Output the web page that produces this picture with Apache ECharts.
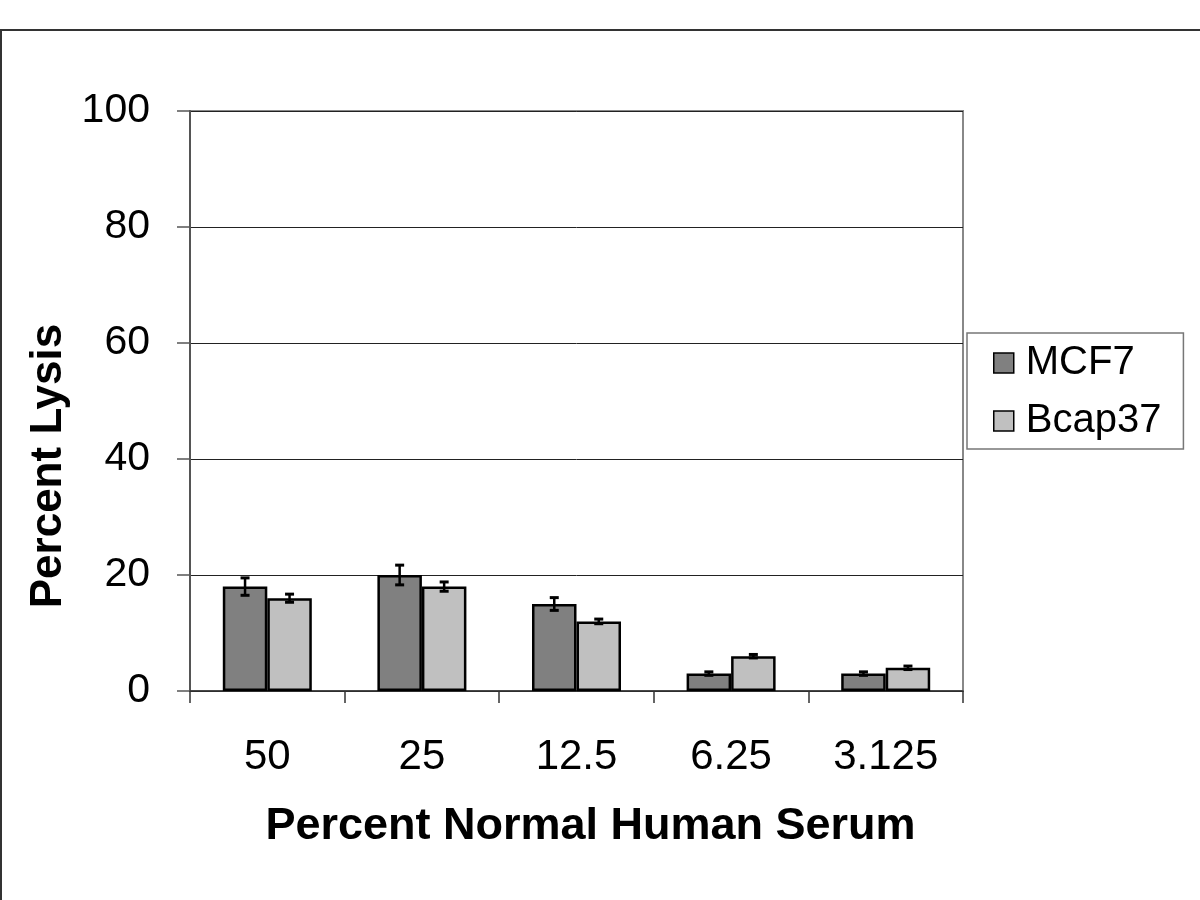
<!DOCTYPE html>
<html><head><meta charset="utf-8">
<script src="https://cdn.jsdelivr.net/npm/echarts@6/dist/echarts.min.js"></script>
<style>html,body{margin:0;padding:0;background:#fff}#c{width:1200px;height:900px}</style>
</head><body><div id="c"></div>
<script>
const categories = ['50', '25', '12.5', '6.25', '3.125'];
const mcf7 = [18, 20, 15, 3, 3];
const mcf7Err = [1.5, 1.7, 1.1, 0.3, 0.3];
const bcap37 = [16, 18, 12, 6, 4];
const bcap37Err = [0.7, 0.8, 0.4, 0.3, 0.3];
const yTicks = [0, 20, 40, 60, 80, 100];

const FONT = 'Liberation Sans, Arial, sans-serif';
const chart = echarts.init(document.getElementById('c'), null, {renderer: 'canvas'});
const BW = 44.5;
function errSeries(name, vals, errs, offset) {
  return {
    type: 'custom', name: name + ' err', silent: true, z: 10,
    data: vals.map((v, i) => [i, v, errs[i]]),
    renderItem: function (params, api) {
      const i = api.value(0), v = api.value(1), e = api.value(2);
      const hi = api.coord([i, v + e]);
      const lo = api.coord([i, v - e]);
      const x = hi[0] + offset;
      const cap = 4.5;
      const st = {stroke: '#000', lineWidth: 2.5};
      return {type: 'group', children: [
        {type: 'line', shape: {x1: x, y1: hi[1], x2: x, y2: lo[1]}, style: st},
        {type: 'line', shape: {x1: x - cap, y1: hi[1], x2: x + cap, y2: hi[1]}, style: {stroke: '#000', lineWidth: 3}},
        {type: 'line', shape: {x1: x - cap, y1: lo[1], x2: x + cap, y2: lo[1]}, style: {stroke: '#000', lineWidth: 3}}
      ]};
    }
  };
}
chart.setOption({
  backgroundColor: '#fff',
  animation: false,
  textStyle: {fontFamily: FONT},
  graphic: [{type: 'rect', shape: {x: 1, y: 30, width: 1300, height: 1000},
    style: {fill: 'none', stroke: '#333', lineWidth: 2}, z: -10}],
  grid: {left: 190, right: 237, top: 111, bottom: 209, show: true,
    borderColor: '#888', borderWidth: 2, backgroundColor: 'transparent'},
  legend: {
    left: 967, top: 333, orient: 'vertical',
    data: ['MCF7', 'Bcap37'], icon: 'rect',
    borderColor: '#777', borderWidth: 1.5, padding: [10, 22, 8, 26],
    itemWidth: 20, itemHeight: 20, itemGap: 18,
    itemStyle: {borderColor: '#000', borderWidth: 1.5},
    textStyle: {fontSize: 40, lineHeight: 40, color: '#000', fontFamily: FONT, padding: [0, 0, 0, 7]}
  },
  xAxis: {
    type: 'category', data: categories,
    name: 'Percent Normal Human Serum', nameLocation: 'middle', nameGap: 113,
    nameTextStyle: {fontSize: 45, fontWeight: 'bold', color: '#000', fontFamily: FONT, padding: [0, 0, 0, 28]},
    axisLine: {lineStyle: {color: '#333', width: 1.5}},
    axisTick: {show: true, length: 12, lineStyle: {color: '#333', width: 1.5}},
    axisLabel: {fontSize: 42, color: '#000', margin: 45}
  },
  yAxis: {
    type: 'value', min: 0, max: 100, interval: 20,
    name: 'Percent Lysis', nameLocation: 'middle', nameGap: 114,
    nameTextStyle: {fontSize: 44, fontWeight: 'bold', color: '#000', fontFamily: FONT, padding: [0, 130, 0, 0]},
    axisLine: {show: true, lineStyle: {color: '#555', width: 2}},
    axisTick: {show: true, length: 13, lineStyle: {color: '#555', width: 1.5}},
    axisLabel: {fontSize: 41, color: '#000', margin: 40,
      formatter: v => yTicks.includes(v) ? String(v) : ''},
    splitLine: {show: true, lineStyle: {color: '#222', width: 1}}
  },
  series: [
    {name: 'MCF7', type: 'bar', data: mcf7, barWidth: BW, barGap: '0%',
      itemStyle: {color: '#808080', borderColor: '#000', borderWidth: 2.5}},
    {name: 'Bcap37', type: 'bar', data: bcap37, barWidth: BW, barGap: '0%',
      itemStyle: {color: '#c0c0c0', borderColor: '#000', borderWidth: 2.5}},
    errSeries('MCF7', mcf7, mcf7Err, -BW / 2),
    errSeries('Bcap37', bcap37, bcap37Err, BW / 2)
  ]
});
</script></body></html>
